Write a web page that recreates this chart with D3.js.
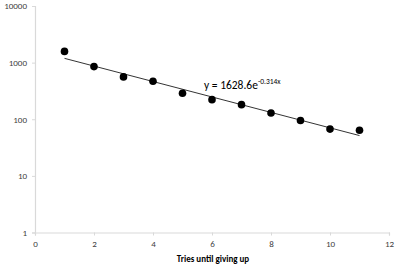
<!DOCTYPE html>
<html>
<head>
<meta charset="utf-8">
<script src="https://cdn.jsdelivr.net/npm/d3@7"></script>
<style>
  body { margin: 0; background: #fff; }
  text { font-family: Carlito, "Liberation Sans", "Open Sans", sans-serif; }
</style>
</head>
<body>
<script>
// Data
var tries = [1, 2, 3, 4, 5, 6, 7, 8, 9, 10, 11];
var counts = [1580, 850, 560, 468, 287, 222, 181, 129, 95, 67, 64];
var xTicks = [0, 2, 4, 6, 8, 10, 12];
var yTicks = [1, 10, 100, 1000, 10000];
var fitCoef = [1628.6, -0.314];

var width = 399, height = 267;
var margin = { top: 6, right: 10, bottom: 34.5, left: 35 };

var svg = d3.select("body").append("svg")
    .attr("width", width)
    .attr("height", height);

var x = d3.scaleLinear()
    .domain([0, 12])
    .range([margin.left, width - margin.right]);

var y = d3.scaleLog()
    .domain([1, 10000])
    .range([height - margin.bottom, margin.top]);

// Y axis
var yAxis = svg.append("g")
    .attr("transform", "translate(" + margin.left + ",0)")
    .call(d3.axisLeft(y).tickValues(yTicks).tickFormat(d3.format("d")).tickSize(3).tickPadding(5));
yAxis.select(".domain").attr("stroke", "#d9d9d9").attr("stroke-width", 1.2);
yAxis.selectAll(".tick line").attr("stroke", "#d9d9d9");
yAxis.selectAll("text").attr("font-size", 9).attr("fill", "#404040");

// X axis
var xAxis = svg.append("g")
    .attr("transform", "translate(0," + y(1) + ")")
    .call(d3.axisBottom(x).tickValues(xTicks).tickSize(3).tickPadding(5));
xAxis.select(".domain").attr("stroke", "#d9d9d9").attr("stroke-width", 1.2);
xAxis.selectAll(".tick line").attr("stroke", "#d9d9d9");
xAxis.selectAll("text").attr("font-size", 9).attr("fill", "#404040");

// X axis label
svg.append("text")
    .attr("x", 213)
    .attr("y", 262)
    .attr("text-anchor", "middle")
    .attr("font-size", 9)
    .attr("font-weight", "bold")
    .attr("fill", "#000")
    .text("Tries until giving up");

// Exponential trendline
var line = d3.line()
    .x(function (d) { return x(d); })
    .y(function (d) { return y(fitCoef[0] * Math.exp(fitCoef[1] * d)); });

svg.append("path")
    .datum([tries[0], tries[tries.length - 1]])
    .attr("d", line)
    .attr("fill", "none")
    .attr("stroke", "#000")
    .attr("stroke-width", 0.8);

// Dots
svg.append("g")
    .selectAll("circle")
    .data(tries)
    .enter()
    .append("circle")
    .attr("cx", function (d) { return x(d); })
    .attr("cy", function (d, i) { return y(counts[i]); })
    .attr("r", 3.8)
    .attr("fill", "#000");

// Trendline equation
var eq = svg.append("text")
    .attr("x", 204)
    .attr("y", 88.5)
    .attr("font-size", 11.5)
    .attr("fill", "#000");
eq.append("tspan").text("y = " + fitCoef[0] + "e");
eq.append("tspan")
    .attr("dy", -4.5)
    .attr("font-size", 7.5)
    .text(fitCoef[1] + "x");
</script>
</body>
</html>
